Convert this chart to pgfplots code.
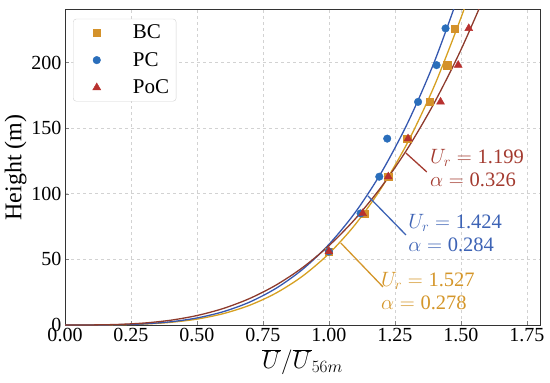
\documentclass[border=0pt]{standalone}
\usepackage{fontspec}
\setmainfont{Liberation Serif}
\usepackage{pgfplots}
\pgfplotsset{compat=1.18}
\definecolor{cBm}{HTML}{D4922B}
\definecolor{cBl}{HTML}{D6A021}
\definecolor{cPm}{HTML}{2A6EBB}
\definecolor{cPl}{HTML}{3558B0}
\definecolor{cRm}{HTML}{B8312F}
\definecolor{cRl}{HTML}{8E3B2C}
\definecolor{tR}{HTML}{A33A2F}
\definecolor{tP}{HTML}{3D63B5}
\definecolor{tB}{HTML}{D4962A}
\begin{document}
\begin{tikzpicture}
\begin{axis}[
  scale only axis, width=475pt, height=315pt,
  xmin=0, xmax=1.8, ymin=0, ymax=240,
  xtick={0,0.25,0.5,0.75,1.0,1.25,1.5,1.75},
  ytick={0,50,100,150,200},
  xticklabel style={/pgf/number format/.cd, fixed, fixed zerofill, precision=2},
  /pgf/number format/assume math mode=true,
  tick label style={font=\fontsize{20}{22}\selectfont},
  tick align=inside, xtick pos=left, ytick pos=left,
  major tick length=4pt,
  grid=major, grid style={dashed, gray!35, line width=0.6pt},
  axis line style={line width=1pt, black!80},
  xlabel={$\overline{U}/\overline{U}_{56m}$},
  ylabel={Height (m)},
  xlabel style={font=\fontsize{23}{25}\selectfont, yshift=-1pt},
  ylabel style={font=\fontsize{24}{26}\selectfont, yshift=-2pt},
  legend cell align=left,
  legend image code/.code={\path[draw=none] (0cm,0cm) -- (1.85cm,0cm); \draw[#1] plot coordinates {(0.65cm,0cm)};},
  legend style={at={(0.017,0.972)}, anchor=north west, draw=gray!35, rounded corners=3pt,
    font=\fontsize{21}{23}\selectfont, row sep=8pt, inner xsep=5pt, inner ysep=4pt},
]
% fitted curves
\addplot[cBl, line width=1.3pt, smooth, forget plot] coordinates {
(0,0)(0.1,0.0138)(0.2,0.166)(0.3,0.716)(0.4,2.014)(0.5,4.49)(0.6,8.66)(0.7,15.07)(0.8,24.37)(0.9,37.21)(1.0,54.37)(1.1,76.61)(1.2,104.77)(1.3,139.7)(1.4,182.4)(1.5,233.8)(1.55,263.0)};
\addplot[cPl, line width=1.3pt, smooth, forget plot] coordinates {
(0,0)(0.1,0.0185)(0.2,0.212)(0.3,0.886)(0.4,2.44)(0.5,5.35)(0.6,10.16)(0.7,17.48)(0.8,27.98)(0.9,42.35)(1.0,61.37)(1.1,85.84)(1.2,116.6)(1.3,154.6)(1.4,200.7)(1.5,255.9)};
\addplot[cRl, line width=1.3pt, smooth, forget plot] coordinates {
(0,0)(0.1,0.0516)(0.2,0.4335)(0.3,1.503)(0.4,3.633)(0.5,7.205)(0.6,12.60)(0.7,20.22)(0.8,30.46)(0.9,43.71)(1.0,60.39)(1.1,80.89)(1.2,105.6)(1.3,135.0)(1.4,169.5)(1.5,209.5)(1.6,255.3)};
% data
\addplot[only marks, mark=square*, mark size=3.6pt, color=cBm] coordinates {
(1.0,56)(1.136,85)(1.225,113)(1.297,142)(1.383,170)(1.448,198)(1.477,226)};
\addlegendentry{BC}
\addplot[only marks, mark=*, mark size=3.8pt, color=cPm] coordinates {
(1.0,56)(1.12,85)(1.191,113)(1.221,142)(1.338,170)(1.408,198)(1.442,226)};
\addlegendentry{PC}
\addplot[only marks, mark=triangle*, mark size=4.6pt, color=cRm] coordinates {
(1.0,56)(1.128,85)(1.225,113)(1.30,142)(1.423,170)(1.490,198)(1.530,226)};
\addlegendentry{PoC}
% annotations
\draw[tR, line width=1.3pt] (axis cs:1.371,116.6) -- (axis cs:1.292,131.0);
\node[anchor=west, text=tR, align=left, inner sep=0pt, font=\fontsize{20.5}{23.5}\selectfont] at (axis cs:1.383,119.5) {$U_r = \mbox{1.199}$\\$\alpha = \mbox{0.326}$};
\draw[tP, line width=1.3pt] (axis cs:1.292,68.6) -- (axis cs:1.148,98.3);
\node[anchor=west, text=tP, align=left, inner sep=0pt, font=\fontsize{20.5}{23.5}\selectfont] at (axis cs:1.30,70) {$U_r = \mbox{1.424}$\\$\alpha = \mbox{0.284}$};
\draw[tB, line width=1.3pt] (axis cs:1.205,29) -- (axis cs:1.045,62.5);
\node[anchor=west, text=tB, align=left, inner sep=0pt, font=\fontsize{20.5}{23.5}\selectfont] at (axis cs:1.197,26) {$U_r = \mbox{1.527}$\\$\alpha = \mbox{0.278}$};
\end{axis}
\pgfresetboundingbox
\useasboundingbox ([shift={(-65pt,-57pt)}]current axis.south west) rectangle ([shift={(10pt,10pt)}]current axis.north east);
\end{tikzpicture}
\end{document}
